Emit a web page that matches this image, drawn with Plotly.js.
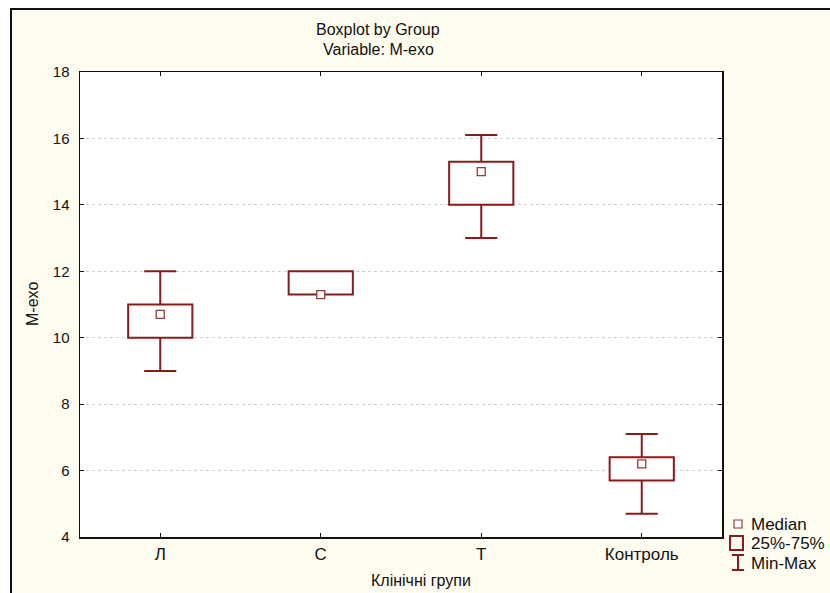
<!DOCTYPE html>
<html><head><meta charset="utf-8">
<script src="https://cdn.plot.ly/plotly-3.0.1.min.js"></script>
<style>
html,body{margin:0;padding:0;background:#fff;width:830px;height:593px;overflow:hidden}
#frame{position:absolute;left:10px;top:8px;width:840px;height:600px;border-left:2px solid #111;border-top:2px solid #111;background:#fffcf0}
#chart{position:absolute;left:0;top:0;width:830px;height:593px}
</style></head><body><div id="frame"></div><div id="chart"></div>
<script>
const groups = ["Л", "С", "Т", "Контроль"];
const minVals = [9, 11.3, 13, 4.7];
const q1Vals = [10, 11.3, 14, 5.7];
const medianVals = [10.7, 11.3, 15, 6.2];
const q3Vals = [11, 12, 15.3, 6.4];
const maxVals = [12, 12, 16.1, 7.1];
const yTicks = [4, 6, 8, 10, 12, 14, 16, 18];
const legendLabels = ["Median", "25%-75%", "Min-Max"];

const RED = '#8b1a1a';
const FONT = 'Liberation Sans, Arial, sans-serif';
const BOXW = 0.4, CAPHALF = 0.1;

const L = 80, R = 722, T = 72, B = 537;
const W = R - L, H = B - T;
const px = x => (x - L) / W;
const py = y => (B - y) / H;

const pos = groups.map((g, i) => i);
const span = q3Vals.map((q, i) => q - q1Vals[i]);

// whisker stems and caps built from the data arrays
const stemX = [], stemY = [], capX = [], capY = [];
pos.forEach((p, i) => {
  if (maxVals[i] > q3Vals[i]) {
    stemX.push(p, p, null); stemY.push(q3Vals[i], maxVals[i], null);
    capX.push(p - CAPHALF, p + CAPHALF, null); capY.push(maxVals[i], maxVals[i], null);
  }
  if (minVals[i] < q1Vals[i]) {
    stemX.push(p, p, null); stemY.push(q1Vals[i], minVals[i], null);
    capX.push(p - CAPHALF, p + CAPHALF, null); capY.push(minVals[i], minVals[i], null);
  }
});

const traces = [
  {
    type: 'bar', x: pos, base: q1Vals, y: span, width: BOXW,
    marker: {color: '#ffffff', line: {color: RED, width: 2}},
    hoverinfo: 'skip', showlegend: false
  },
  {
    type: 'scatter', mode: 'lines', x: stemX.concat(capX), y: stemY.concat(capY),
    line: {color: RED, width: 2}, connectgaps: false,
    hoverinfo: 'skip', showlegend: false
  },
  {
    type: 'scatter', mode: 'markers', x: pos, y: medianVals,
    marker: {symbol: 'square', size: 8, color: '#ffffff', line: {color: '#9a3a3a', width: 1.3}},
    hoverinfo: 'skip', showlegend: false
  }
];

const shapes = [
  {type: 'rect', xref: 'paper', yref: 'paper', x0: px(734), x1: px(742), y0: py(528), y1: py(520), line: {color: '#9a3a3a', width: 1.2}, fillcolor: '#ffffff'},
  {type: 'rect', xref: 'paper', yref: 'paper', x0: px(730), x1: px(743), y0: py(550), y1: py(536), line: {color: RED, width: 2}, fillcolor: 'rgba(0,0,0,0)'},
  {type: 'line', xref: 'paper', yref: 'paper', x0: px(738), x1: px(738), y0: py(570), y1: py(555), line: {color: RED, width: 2}},
  {type: 'line', xref: 'paper', yref: 'paper', x0: px(732), x1: px(744), y0: py(555), y1: py(555), line: {color: RED, width: 2}},
  {type: 'line', xref: 'paper', yref: 'paper', x0: px(732), x1: px(744), y0: py(570), y1: py(570), line: {color: RED, width: 2}}
];

const legendY = [524, 543, 563];
const annotations = legendLabels.map((t, i) => ({
  text: t, xref: 'paper', yref: 'paper', x: px(749), y: py(legendY[i]),
  xanchor: 'left', yanchor: 'middle', showarrow: false,
  font: {family: FONT, size: 17, color: '#111'}
}));
annotations.push(
  {text: 'Boxplot by Group', xref: 'paper', yref: 'paper', x: px(378), y: py(30), xanchor: 'center', yanchor: 'middle', showarrow: false, font: {family: FONT, size: 16, color: '#111'}},
  {text: 'Variable: M-exo', xref: 'paper', yref: 'paper', x: px(378), y: py(50), xanchor: 'center', yanchor: 'middle', showarrow: false, font: {family: FONT, size: 16, color: '#111'}},
  {text: 'Клінічні групи', xref: 'paper', yref: 'paper', x: px(421), y: py(580), xanchor: 'center', yanchor: 'middle', showarrow: false, font: {family: FONT, size: 16, color: '#111'}},
  {text: 'M-exo', xref: 'paper', yref: 'paper', x: px(32), y: py(304), textangle: -90, xanchor: 'center', yanchor: 'middle', showarrow: false, font: {family: FONT, size: 16, color: '#111'}}
);

const layout = {
  width: 830, height: 593,
  margin: {l: L, r: 830 - R, t: T, b: 593 - B, pad: 0},
  paper_bgcolor: 'rgba(0,0,0,0)', plot_bgcolor: '#ffffff',
  font: {family: FONT, size: 15, color: '#111'},
  showlegend: false,
  xaxis: {
    range: [-0.5, groups.length - 0.5], tickvals: pos, ticktext: groups,
    showgrid: false, zeroline: false,
    showline: true, linecolor: '#111', linewidth: 1.5, mirror: 'ticks',
    ticks: 'inside', ticklen: 4, tickcolor: '#111', ticklabelstandoff: 1,
    tickfont: {family: FONT, size: 17, color: '#111'}
  },
  yaxis: {
    range: [4, 18], tickvals: yTicks, ticktext: yTicks.map(String),
    showgrid: true, gridcolor: '#cfcfcf', griddash: 'dot', gridwidth: 1, zeroline: false,
    showline: true, linecolor: '#111', linewidth: 1.5, mirror: 'ticks',
    ticks: 'inside', ticklen: 4, tickcolor: '#111', ticklabelstandoff: 6,
    tickfont: {family: FONT, size: 15, color: '#111'}
  },
  shapes: shapes,
  annotations: annotations
};

Plotly.newPlot('chart', traces, layout, {staticPlot: true, displayModeBar: false});
</script></body></html>
